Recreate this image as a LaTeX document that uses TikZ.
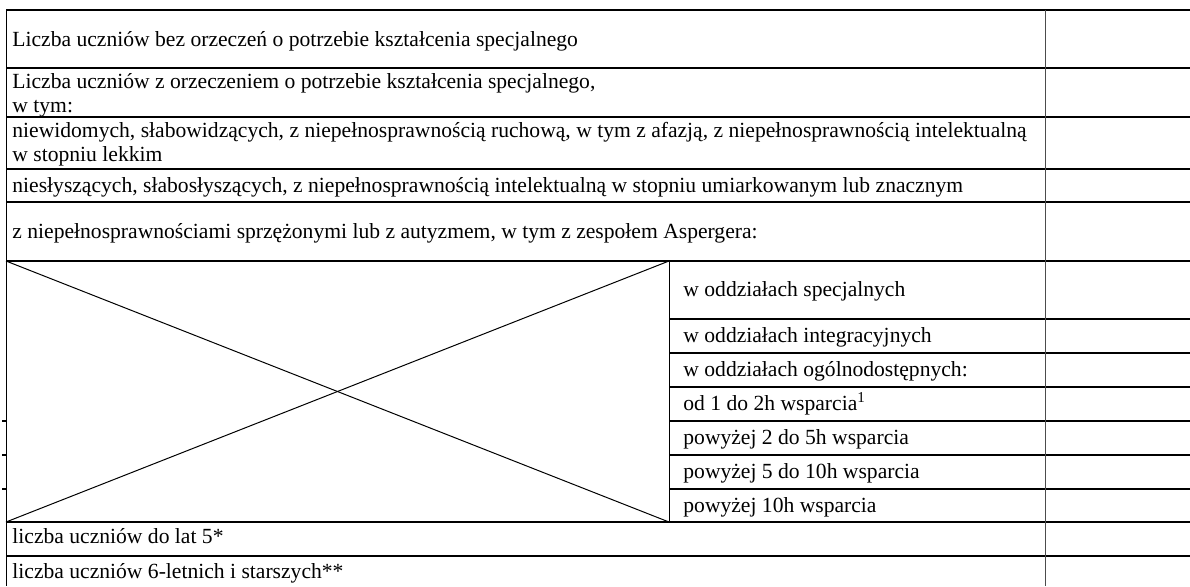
\documentclass[tikz,border=0pt]{standalone}
\usepackage{fontspec}
\setmainfont{Liberation Serif}
\usetikzlibrary{calc}

\tikzset{
	celltext/.style={anchor=base west, inner sep=0pt, font=\fontsize{10.8pt}{12.4pt}\selectfont},
	rowline/.style={line width=0.75pt},
	colline/.style={line width=0.5pt},
}

\begin{document}
\begin{tikzpicture}[x=0.5pt, y=-0.5pt]
	\useasboundingbox (0, 0) rectangle (1190, 586);

	% rules across the whole table
	\foreach \y in {10, 68, 117, 169, 202, 261, 522, 556}
		\draw[rowline] (6, \y) -- (1190, \y);
	% rules of the inner column
	\foreach \y in {319, 353, 387, 421, 455, 489}
		\draw[rowline] (669, \y) -- (1190, \y);
	\foreach \y in {421, 455, 489}
		\draw[rowline] (2, \y) -- (6, \y);

	\draw[colline] (6, 10) -- (6, 586);
	\draw[colline, black!70] (1045, 10) -- (1045, 586);
	\draw[colline] (669, 261) -- (669, 522);

	% crossed-out cell
	\draw[colline] (6, 261) -- (669, 522);
	\draw[colline] (6, 522) -- (669, 261);

	\node[celltext] (bez) at (12, 46) {Liczba uczniów bez orzeczeń o potrzebie kształcenia specjalnego};
	\node[celltext] (zorz) at (12, 88) {Liczba uczniów z orzeczeniem o potrzebie kształcenia specjalnego,};
	\node[celltext] (wtym) at (12, 112) {w tym:};
	\node[celltext] (niew) at (12, 137) {niewidomych, słabowidzących, z niepełnosprawnością ruchową, w tym z afazją, z niepełnosprawnością intelektualną};
	\node[celltext] (lekk) at (12, 161) {w stopniu lekkim};
	\node[celltext] (nies) at (12, 192) {niesłyszących, słabosłyszących, z niepełnosprawnością intelektualną w stopniu umiarkowanym lub znacznym};
	\node[celltext] (sprz) at (12, 238) {z niepełnosprawnościami sprzężonymi lub z autyzmem, w tym z zespołem Aspergera:};

	\node[celltext] (spec) at (683, 296) {w oddziałach specjalnych};
	\node[celltext] (integ) at (683, 342) {w oddziałach integracyjnych};
	\node[celltext] (ogol) at (683, 376) {w oddziałach ogólnodostępnych:};
	\node[celltext] (wsp1) at (683, 410) {od 1 do 2h wsparcia\textsuperscript{1}};
	\node[celltext] (wsp2) at (683, 444) {powyżej 2 do 5h wsparcia};
	\node[celltext] (wsp3) at (683, 478) {powyżej 5 do 10h wsparcia};
	\node[celltext] (wsp4) at (683, 512) {powyżej 10h wsparcia};

	\node[celltext] (lat5) at (12, 543) {liczba uczniów do lat 5*};
	\node[celltext] (lat6) at (12, 578) {liczba uczniów 6-letnich i starszych**};
\end{tikzpicture}
\end{document}
